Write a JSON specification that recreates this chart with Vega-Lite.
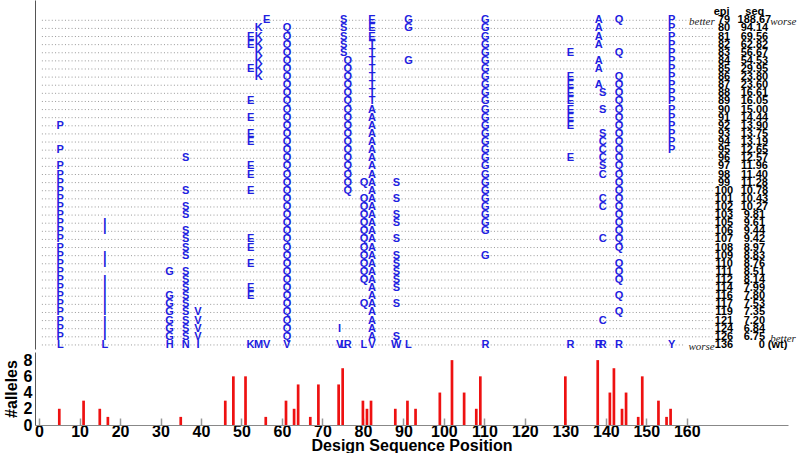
{
"$schema": "https://vega.github.io/schema/vega-lite/v6.json",
"padding": {"left": 3, "top": 0, "right": 0, "bottom": 0},
"background": "white",
"spacing": 0,
"config": {"view": {"stroke": null}, "font": "Liberation Sans"},
"datasets": {
"designs": [
{"r":0,"epi":79,"seq":"188.67"},{"r":1,"epi":80,"seq":"94.14"},{"r":2,"epi":81,"seq":"69.56"},{"r":3,"epi":82,"seq":"62.82"},{"r":4,"epi":83,"seq":"56.67"},{"r":5,"epi":84,"seq":"54.53"},{"r":6,"epi":85,"seq":"29.95"},{"r":7,"epi":86,"seq":"23.80"},{"r":8,"epi":87,"seq":"23.60"},{"r":9,"epi":88,"seq":"16.61"},{"r":10,"epi":89,"seq":"16.05"},{"r":11,"epi":90,"seq":"15.00"},{"r":12,"epi":91,"seq":"14.44"},{"r":13,"epi":92,"seq":"13.90"},{"r":14,"epi":93,"seq":"13.75"},{"r":15,"epi":94,"seq":"13.19"},{"r":16,"epi":95,"seq":"12.65"},{"r":17,"epi":96,"seq":"12.57"},{"r":18,"epi":97,"seq":"11.96"},{"r":19,"epi":98,"seq":"11.40"},{"r":20,"epi":99,"seq":"11.28"},{"r":21,"epi":100,"seq":"10.78"},{"r":22,"epi":101,"seq":"10.43"},{"r":23,"epi":102,"seq":"10.27"},{"r":24,"epi":103,"seq":"9.81"},{"r":25,"epi":105,"seq":"9.61"},{"r":26,"epi":106,"seq":"9.44"},{"r":27,"epi":107,"seq":"9.42"},{"r":28,"epi":108,"seq":"8.97"},{"r":29,"epi":109,"seq":"8.83"},{"r":30,"epi":110,"seq":"8.76"},{"r":31,"epi":111,"seq":"8.51"},{"r":32,"epi":112,"seq":"8.14"},{"r":33,"epi":114,"seq":"7.99"},{"r":34,"epi":116,"seq":"7.80"},{"r":35,"epi":117,"seq":"7.53"},{"r":36,"epi":119,"seq":"7.35"},{"r":37,"epi":121,"seq":"7.20"},{"r":38,"epi":124,"seq":"6.84"},{"r":39,"epi":126,"seq":"6.75"},{"r":40,"epi":136,"seq":"0 (wt)"}
],
"muts": [
{"r":13,"p":5,"a":"P"},{"r":16,"p":5,"a":"P"},{"r":18,"p":5,"a":"P"},{"r":19,"p":5,"a":"P"},{"r":20,"p":5,"a":"P"},{"r":21,"p":5,"a":"P"},{"r":22,"p":5,"a":"P"},{"r":23,"p":5,"a":"P"},{"r":24,"p":5,"a":"P"},{"r":25,"p":5,"a":"P"},{"r":26,"p":5,"a":"P"},{"r":27,"p":5,"a":"P"},{"r":28,"p":5,"a":"P"},{"r":29,"p":5,"a":"P"},{"r":30,"p":5,"a":"P"},{"r":31,"p":5,"a":"P"},{"r":32,"p":5,"a":"P"},{"r":33,"p":5,"a":"P"},{"r":34,"p":5,"a":"P"},{"r":35,"p":5,"a":"P"},{"r":36,"p":5,"a":"P"},{"r":37,"p":5,"a":"P"},{"r":38,"p":5,"a":"P"},{"r":39,"p":5,"a":"P"},{"r":40,"p":5,"a":"L"},
{"r":25,"p":16,"a":"I"},{"r":26,"p":16,"a":"I"},{"r":29,"p":16,"a":"I"},{"r":30,"p":16,"a":"I"},{"r":32,"p":16,"a":"I"},{"r":33,"p":16,"a":"I"},{"r":34,"p":16,"a":"I"},{"r":35,"p":16,"a":"I"},{"r":36,"p":16,"a":"I"},{"r":37,"p":16,"a":"I"},{"r":38,"p":16,"a":"I"},{"r":39,"p":16,"a":"I"},{"r":40,"p":16,"a":"L"},
{"r":31,"p":32,"a":"G"},{"r":34,"p":32,"a":"G"},{"r":35,"p":32,"a":"G"},{"r":36,"p":32,"a":"G"},{"r":37,"p":32,"a":"G"},{"r":38,"p":32,"a":"G"},{"r":39,"p":32,"a":"G"},{"r":40,"p":32,"a":"H"},
{"r":17,"p":36,"a":"S"},{"r":21,"p":36,"a":"S"},{"r":23,"p":36,"a":"S"},{"r":24,"p":36,"a":"S"},{"r":26,"p":36,"a":"S"},{"r":27,"p":36,"a":"S"},{"r":28,"p":36,"a":"S"},{"r":29,"p":36,"a":"S"},{"r":31,"p":36,"a":"S"},{"r":32,"p":36,"a":"S"},{"r":33,"p":36,"a":"S"},{"r":34,"p":36,"a":"S"},{"r":35,"p":36,"a":"S"},{"r":36,"p":36,"a":"S"},{"r":37,"p":36,"a":"S"},{"r":38,"p":36,"a":"S"},{"r":39,"p":36,"a":"S"},{"r":40,"p":36,"a":"N"},
{"r":36,"p":39,"a":"V"},{"r":37,"p":39,"a":"V"},{"r":38,"p":39,"a":"V"},{"r":39,"p":39,"a":"V"},{"r":40,"p":39,"a":"I"},
{"r":2,"p":52,"a":"E"},{"r":3,"p":52,"a":"E"},{"r":6,"p":52,"a":"E"},{"r":10,"p":52,"a":"E"},{"r":12,"p":52,"a":"E"},{"r":14,"p":52,"a":"E"},{"r":15,"p":52,"a":"E"},{"r":18,"p":52,"a":"E"},{"r":19,"p":52,"a":"E"},{"r":21,"p":52,"a":"E"},{"r":27,"p":52,"a":"E"},{"r":28,"p":52,"a":"E"},{"r":30,"p":52,"a":"E"},{"r":33,"p":52,"a":"E"},{"r":34,"p":52,"a":"E"},{"r":40,"p":52,"a":"K"},
{"r":1,"p":54,"a":"K"},{"r":2,"p":54,"a":"K"},{"r":3,"p":54,"a":"K"},{"r":4,"p":54,"a":"K"},{"r":5,"p":54,"a":"K"},{"r":6,"p":54,"a":"K"},{"r":7,"p":54,"a":"K"},{"r":40,"p":54,"a":"M"},
{"r":0,"p":56,"a":"E"},{"r":40,"p":56,"a":"V"},
{"r":1,"p":61,"a":"Q"},{"r":2,"p":61,"a":"Q"},{"r":3,"p":61,"a":"Q"},{"r":4,"p":61,"a":"Q"},{"r":5,"p":61,"a":"Q"},{"r":6,"p":61,"a":"Q"},{"r":7,"p":61,"a":"Q"},{"r":8,"p":61,"a":"Q"},{"r":9,"p":61,"a":"Q"},{"r":10,"p":61,"a":"Q"},{"r":11,"p":61,"a":"Q"},{"r":12,"p":61,"a":"Q"},{"r":13,"p":61,"a":"Q"},{"r":14,"p":61,"a":"Q"},{"r":15,"p":61,"a":"Q"},{"r":16,"p":61,"a":"Q"},{"r":17,"p":61,"a":"Q"},{"r":18,"p":61,"a":"Q"},{"r":19,"p":61,"a":"Q"},{"r":20,"p":61,"a":"Q"},{"r":21,"p":61,"a":"Q"},{"r":22,"p":61,"a":"Q"},{"r":23,"p":61,"a":"Q"},{"r":24,"p":61,"a":"Q"},{"r":25,"p":61,"a":"Q"},{"r":26,"p":61,"a":"Q"},{"r":27,"p":61,"a":"Q"},{"r":28,"p":61,"a":"Q"},{"r":29,"p":61,"a":"Q"},{"r":30,"p":61,"a":"Q"},{"r":31,"p":61,"a":"Q"},{"r":32,"p":61,"a":"Q"},{"r":33,"p":61,"a":"Q"},{"r":34,"p":61,"a":"Q"},{"r":35,"p":61,"a":"Q"},{"r":36,"p":61,"a":"Q"},{"r":37,"p":61,"a":"Q"},{"r":38,"p":61,"a":"Q"},{"r":39,"p":61,"a":"Q"},{"r":40,"p":61,"a":"V"},
{"r":38,"p":74,"a":"I"},{"r":40,"p":74,"a":"V"},
{"r":0,"p":75,"a":"S"},{"r":1,"p":75,"a":"S"},{"r":2,"p":75,"a":"S"},{"r":3,"p":75,"a":"S"},{"r":4,"p":75,"a":"S"},{"r":40,"p":75,"a":"L"},
{"r":5,"p":76,"a":"Q"},{"r":6,"p":76,"a":"Q"},{"r":7,"p":76,"a":"Q"},{"r":8,"p":76,"a":"Q"},{"r":9,"p":76,"a":"Q"},{"r":10,"p":76,"a":"Q"},{"r":11,"p":76,"a":"Q"},{"r":12,"p":76,"a":"Q"},{"r":13,"p":76,"a":"Q"},{"r":14,"p":76,"a":"Q"},{"r":15,"p":76,"a":"Q"},{"r":16,"p":76,"a":"Q"},{"r":17,"p":76,"a":"Q"},{"r":18,"p":76,"a":"Q"},{"r":19,"p":76,"a":"Q"},{"r":20,"p":76,"a":"Q"},{"r":21,"p":76,"a":"Q"},{"r":40,"p":76,"a":"R"},
{"r":20,"p":80,"a":"Q"},{"r":22,"p":80,"a":"Q"},{"r":23,"p":80,"a":"Q"},{"r":24,"p":80,"a":"Q"},{"r":25,"p":80,"a":"Q"},{"r":26,"p":80,"a":"Q"},{"r":27,"p":80,"a":"Q"},{"r":28,"p":80,"a":"Q"},{"r":29,"p":80,"a":"Q"},{"r":30,"p":80,"a":"Q"},{"r":31,"p":80,"a":"Q"},{"r":32,"p":80,"a":"Q"},{"r":35,"p":80,"a":"Q"},{"r":40,"p":80,"a":"L"},
{"r":0,"p":82,"a":"E"},{"r":1,"p":82,"a":"E"},{"r":2,"p":82,"a":"E"},{"r":3,"p":82,"a":"T"},{"r":4,"p":82,"a":"T"},{"r":5,"p":82,"a":"T"},{"r":6,"p":82,"a":"T"},{"r":7,"p":82,"a":"T"},{"r":8,"p":82,"a":"T"},{"r":9,"p":82,"a":"T"},{"r":10,"p":82,"a":"T"},{"r":11,"p":82,"a":"A"},{"r":12,"p":82,"a":"A"},{"r":13,"p":82,"a":"A"},{"r":14,"p":82,"a":"A"},{"r":15,"p":82,"a":"A"},{"r":16,"p":82,"a":"A"},{"r":17,"p":82,"a":"A"},{"r":18,"p":82,"a":"A"},{"r":19,"p":82,"a":"A"},{"r":20,"p":82,"a":"A"},{"r":21,"p":82,"a":"A"},{"r":22,"p":82,"a":"A"},{"r":23,"p":82,"a":"A"},{"r":24,"p":82,"a":"A"},{"r":25,"p":82,"a":"A"},{"r":26,"p":82,"a":"A"},{"r":27,"p":82,"a":"A"},{"r":28,"p":82,"a":"A"},{"r":29,"p":82,"a":"A"},{"r":30,"p":82,"a":"A"},{"r":31,"p":82,"a":"A"},{"r":32,"p":82,"a":"A"},{"r":33,"p":82,"a":"A"},{"r":34,"p":82,"a":"A"},{"r":35,"p":82,"a":"A"},{"r":36,"p":82,"a":"A"},{"r":37,"p":82,"a":"A"},{"r":38,"p":82,"a":"A"},{"r":39,"p":82,"a":"A"},{"r":40,"p":82,"a":"V"},
{"r":20,"p":88,"a":"S"},{"r":22,"p":88,"a":"S"},{"r":24,"p":88,"a":"S"},{"r":25,"p":88,"a":"S"},{"r":27,"p":88,"a":"S"},{"r":29,"p":88,"a":"S"},{"r":30,"p":88,"a":"S"},{"r":31,"p":88,"a":"S"},{"r":32,"p":88,"a":"S"},{"r":33,"p":88,"a":"S"},{"r":35,"p":88,"a":"S"},{"r":39,"p":88,"a":"S"},{"r":40,"p":88,"a":"W"},
{"r":0,"p":91,"a":"G"},{"r":1,"p":91,"a":"G"},{"r":5,"p":91,"a":"G"},{"r":40,"p":91,"a":"L"},
{"r":0,"p":110,"a":"G"},{"r":1,"p":110,"a":"G"},{"r":2,"p":110,"a":"G"},{"r":3,"p":110,"a":"G"},{"r":4,"p":110,"a":"G"},{"r":5,"p":110,"a":"G"},{"r":6,"p":110,"a":"G"},{"r":7,"p":110,"a":"G"},{"r":8,"p":110,"a":"G"},{"r":9,"p":110,"a":"G"},{"r":10,"p":110,"a":"G"},{"r":11,"p":110,"a":"G"},{"r":12,"p":110,"a":"G"},{"r":13,"p":110,"a":"G"},{"r":14,"p":110,"a":"G"},{"r":15,"p":110,"a":"G"},{"r":16,"p":110,"a":"G"},{"r":17,"p":110,"a":"G"},{"r":18,"p":110,"a":"G"},{"r":19,"p":110,"a":"G"},{"r":20,"p":110,"a":"G"},{"r":21,"p":110,"a":"G"},{"r":22,"p":110,"a":"G"},{"r":23,"p":110,"a":"G"},{"r":24,"p":110,"a":"G"},{"r":25,"p":110,"a":"G"},{"r":26,"p":110,"a":"G"},{"r":29,"p":110,"a":"G"},{"r":40,"p":110,"a":"R"},
{"r":4,"p":131,"a":"E"},{"r":7,"p":131,"a":"E"},{"r":8,"p":131,"a":"E"},{"r":9,"p":131,"a":"E"},{"r":10,"p":131,"a":"E"},{"r":11,"p":131,"a":"E"},{"r":12,"p":131,"a":"E"},{"r":13,"p":131,"a":"E"},{"r":17,"p":131,"a":"E"},{"r":40,"p":131,"a":"R"},
{"r":0,"p":138,"a":"A"},{"r":1,"p":138,"a":"A"},{"r":2,"p":138,"a":"A"},{"r":3,"p":138,"a":"A"},{"r":5,"p":138,"a":"A"},{"r":6,"p":138,"a":"A"},{"r":8,"p":138,"a":"A"},{"r":40,"p":138,"a":"R"},
{"r":9,"p":139,"a":"S"},{"r":11,"p":139,"a":"S"},{"r":14,"p":139,"a":"S"},{"r":18,"p":139,"a":"S"},{"r":15,"p":139,"a":"C"},{"r":16,"p":139,"a":"C"},{"r":17,"p":139,"a":"C"},{"r":19,"p":139,"a":"C"},{"r":22,"p":139,"a":"C"},{"r":23,"p":139,"a":"C"},{"r":27,"p":139,"a":"C"},{"r":37,"p":139,"a":"C"},{"r":40,"p":139,"a":"R"},
{"r":0,"p":143,"a":"Q"},{"r":4,"p":143,"a":"Q"},{"r":7,"p":143,"a":"Q"},{"r":8,"p":143,"a":"Q"},{"r":9,"p":143,"a":"Q"},{"r":10,"p":143,"a":"Q"},{"r":11,"p":143,"a":"Q"},{"r":12,"p":143,"a":"Q"},{"r":13,"p":143,"a":"Q"},{"r":14,"p":143,"a":"Q"},{"r":15,"p":143,"a":"Q"},{"r":16,"p":143,"a":"Q"},{"r":17,"p":143,"a":"Q"},{"r":18,"p":143,"a":"Q"},{"r":19,"p":143,"a":"Q"},{"r":20,"p":143,"a":"Q"},{"r":21,"p":143,"a":"Q"},{"r":22,"p":143,"a":"Q"},{"r":23,"p":143,"a":"Q"},{"r":24,"p":143,"a":"Q"},{"r":25,"p":143,"a":"Q"},{"r":26,"p":143,"a":"Q"},{"r":27,"p":143,"a":"Q"},{"r":28,"p":143,"a":"Q"},{"r":30,"p":143,"a":"Q"},{"r":31,"p":143,"a":"Q"},{"r":32,"p":143,"a":"Q"},{"r":34,"p":143,"a":"Q"},{"r":36,"p":143,"a":"Q"},{"r":40,"p":143,"a":"R"},
{"r":0,"p":156,"a":"P"},{"r":1,"p":156,"a":"P"},{"r":2,"p":156,"a":"P"},{"r":3,"p":156,"a":"P"},{"r":4,"p":156,"a":"P"},{"r":5,"p":156,"a":"P"},{"r":6,"p":156,"a":"P"},{"r":7,"p":156,"a":"P"},{"r":8,"p":156,"a":"P"},{"r":9,"p":156,"a":"P"},{"r":10,"p":156,"a":"P"},{"r":11,"p":156,"a":"P"},{"r":12,"p":156,"a":"P"},{"r":13,"p":156,"a":"P"},{"r":14,"p":156,"a":"P"},{"r":15,"p":156,"a":"P"},{"r":16,"p":156,"a":"P"},{"r":40,"p":156,"a":"Y"}
],
"alleles": [
{"p":5,"n":2},{"p":11,"n":3},{"p":15,"n":2},{"p":17,"n":1},{"p":35,"n":1},{"p":46,"n":3},{"p":48,"n":6},{"p":51,"n":6},{"p":56,"n":1},{"p":61,"n":3},{"p":63,"n":2},{"p":64,"n":5},{"p":67,"n":1},{"p":69,"n":5},{"p":74,"n":5},{"p":75,"n":7},{"p":80,"n":3},{"p":81,"n":2},{"p":82,"n":3},{"p":88,"n":2},{"p":91,"n":3},{"p":93,"n":2},{"p":99,"n":4},{"p":102,"n":8},{"p":105,"n":4},{"p":108,"n":2},{"p":109,"n":6},{"p":130,"n":6},{"p":138,"n":8},{"p":141,"n":4},{"p":142,"n":7},{"p":144,"n":2},{"p":145,"n":4},{"p":148,"n":1},{"p":149,"n":6},{"p":153,"n":3},{"p":155,"n":1},{"p":156,"n":2}
]
},
"vconcat": [
{
"width": 753, "height": 349,
"resolve": {"scale": {"x": "shared", "y": "shared"}},
"layer": [
{"data": {"name": "designs"}, "transform": [{"filter": "datum.r > 0 && datum.r < 40"}],
 "mark": {"type": "rule", "strokeDash": [1, 2.3], "color": "#999", "strokeWidth": 1},
 "encoding": {
  "y": {"field": "r", "type": "quantitative", "scale": {"domain": [40.5, -2.5], "nice": false, "zero": false}, "axis": {"labels": false, "ticks": false, "title": null, "grid": false, "domainColor": "#555", "domainWidth": 1}},
  "x": {"datum": 0.7, "type": "quantitative", "scale": {"domain": [-1, 185], "nice": false, "zero": false}, "axis": null},
  "x2": {"datum": 166.4}}},
{"data": {"name": "designs"}, "transform": [{"filter": "datum.r == 0"}],
 "mark": {"type": "rule", "strokeDash": [1, 2.3], "color": "#999", "strokeWidth": 1},
 "encoding": {"y": {"field": "r", "type": "quantitative"}, "x": {"datum": 0.7, "type": "quantitative"}, "x2": {"datum": 160.6}}},
{"data": {"name": "designs"}, "transform": [{"filter": "datum.r == 40"}],
 "mark": {"type": "rule", "strokeDash": [1, 2.3], "color": "#999", "strokeWidth": 1},
 "encoding": {"y": {"field": "r", "type": "quantitative"}, "x": {"datum": 0.7, "type": "quantitative"}, "x2": {"datum": 159.1}}},
{"data": {"name": "muts"},
 "mark": {"type": "text", "font": "Liberation Sans Narrow, Liberation Sans", "fontWeight": "bold", "fontSize": 11, "color": "#2020e0", "baseline": "middle", "align": "center", "dx": 1},
 "encoding": {"y": {"field": "r", "type": "quantitative"}, "x": {"field": "p", "type": "quantitative"}, "text": {"field": "a"}}},
{"data": {"name": "designs"},
 "mark": {"type": "text", "font": "Liberation Sans Narrow, Liberation Sans", "fontWeight": "bold", "fontSize": 11, "color": "black", "baseline": "middle", "align": "center"},
 "encoding": {"y": {"field": "r", "type": "quantitative"}, "x": {"datum": 169.2, "type": "quantitative"}, "text": {"field": "epi"}}},
{"data": {"name": "designs"}, "transform": [{"filter": "datum.r < 40"}],
 "mark": {"type": "text", "font": "Liberation Sans Narrow, Liberation Sans", "fontWeight": "bold", "fontSize": 11, "color": "black", "baseline": "middle", "align": "center"},
 "encoding": {"y": {"field": "r", "type": "quantitative"}, "x": {"datum": 176.7, "type": "quantitative"}, "text": {"field": "seq"}}},
{"data": {"name": "designs"}, "transform": [{"filter": "datum.r == 40"}],
 "mark": {"type": "text", "font": "Liberation Sans Narrow, Liberation Sans", "fontWeight": "bold", "fontSize": 11, "color": "black", "baseline": "middle", "align": "center"},
 "encoding": {"y": {"field": "r", "type": "quantitative"}, "x": {"datum": 181.3, "type": "quantitative"}, "text": {"field": "seq"}}},
{"data": {"values": [{"r": -1, "t": "epi"}]},
 "mark": {"type": "text", "font": "Liberation Sans Narrow, Liberation Sans", "fontWeight": "bold", "fontSize": 11, "color": "black", "baseline": "middle", "align": "center"},
 "encoding": {"y": {"field": "r", "type": "quantitative"}, "x": {"datum": 168.6, "type": "quantitative"}, "text": {"field": "t"}}},
{"data": {"values": [{"r": -1, "t": "seq"}]},
 "mark": {"type": "text", "font": "Liberation Sans Narrow, Liberation Sans", "fontWeight": "bold", "fontSize": 11, "color": "black", "baseline": "middle", "align": "center"},
 "encoding": {"y": {"field": "r", "type": "quantitative"}, "x": {"datum": 176.8, "type": "quantitative"}, "text": {"field": "t"}}},
{"data": {"values": [{"r": 0, "t": "better"}, {"r": 40, "t": "worse"}]},
 "mark": {"type": "text", "font": "Liberation Serif", "fontStyle": "italic", "fontSize": 11, "color": "#222", "baseline": "middle", "align": "right", "dy": 2},
 "encoding": {"y": {"field": "r", "type": "quantitative"}, "x": {"datum": 166.9, "type": "quantitative"}, "text": {"field": "t"}}},
{"data": {"values": [{"r": 0, "t": "worse"}, {"r": 39, "t": "better"}]},
 "mark": {"type": "text", "font": "Liberation Serif", "fontStyle": "italic", "fontSize": 11, "color": "#222", "baseline": "middle", "align": "left", "dy": 2},
 "encoding": {"y": {"field": "r", "type": "quantitative"}, "x": {"datum": 180.6, "type": "quantitative"}, "text": {"field": "t"}}}
]
},
{
"width": 753, "height": 73,
"data": {"name": "alleles"},
"mark": {"type": "rule", "color": "#ee1111", "strokeWidth": 2.7, "strokeCap": "butt"},
"encoding": {
"x": {"field": "p", "type": "quantitative", "scale": {"domain": [-1, 185], "nice": false, "zero": false},
 "axis": {"values": [0,10,20,30,40,50,60,70,80,90,100,110,120,130,140,150,160], "title": "Design Sequence Position", "grid": false,
  "labelFontSize": 16, "labelFontWeight": "bold", "labelColor": "black", "labelFont": "Liberation Sans",
  "titleFontSize": 16, "titleFontWeight": "bold", "titleColor": "black", "titleFont": "Liberation Sans", "titlePadding": -2,
  "tickSize": -7, "tickColor": "#999", "tickWidth": 1.5, "labelPadding": 5, "domainColor": "#888", "domainWidth": 1}},
"y": {"field": "n", "type": "quantitative", "scale": {"domain": [0, 9], "nice": false},
 "axis": {"values": [0,2,4,6,8], "title": "#alleles", "grid": false, "ticks": false,
  "labelFontSize": 16, "labelFontWeight": "bold", "labelColor": "black", "labelFont": "Liberation Sans", "labelPadding": 3,
  "titleFontSize": 16, "titleFontWeight": "bold", "titleColor": "black", "titleFont": "Liberation Sans", "titlePadding": 4,
  "domainColor": "#555", "domainWidth": 1}},
"y2": {"datum": 0}
}
}
]
}
